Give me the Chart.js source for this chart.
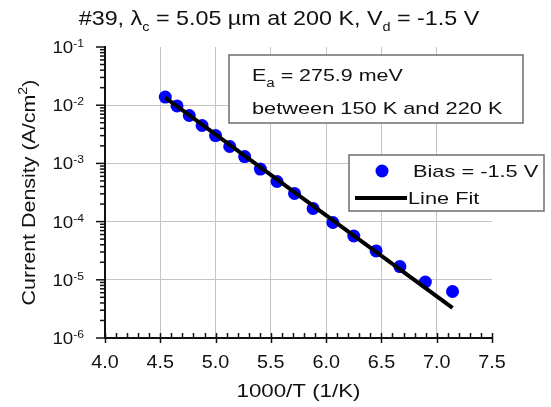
<!DOCTYPE html>
<html>
<head>
<meta charset="utf-8">
<script src="https://cdn.jsdelivr.net/npm/chart.js@4.4.1/dist/chart.umd.min.js"></script>
<style>
    body { margin: 0; background: #fff; }
    #wrap { width: 551px; height: 407px; position: relative; }
</style>
</head>
<body>
<div id="wrap"><canvas id="chart"></canvas></div>
<script>
// 1000/T values (1/K) and measured current density (A/cm^2)
const invT = [4.545, 4.651, 4.762, 4.878, 5.0, 5.128, 5.263, 5.405, 5.556, 5.714, 5.882, 6.061, 6.25, 6.452, 6.667, 6.897, 7.143];
const currentDensity = [1.38e-2, 9.7e-3, 6.65e-3, 4.48e-3, 3.01e-3, 1.95e-3, 1.31e-3, 8.0e-4, 4.89e-4, 3.04e-4, 1.68e-4, 9.66e-5, 5.66e-5, 3.13e-5, 1.69e-5, 9.17e-6, 6.29e-6];

// Arrhenius line fit end points
const fitX = [4.545, 7.143];
const fitY = [1.35e-2, 3.3e-6];

// tick labels
const xTicks = [4.0, 4.5, 5.0, 5.5, 6.0, 6.5, 7.0, 7.5];
const yExponents = [-1, -2, -3, -4, -5, -6];

const FONT = "'Liberation Sans', Arial, Helvetica, sans-serif";

// draw a row of text pieces (for sub/superscripts), sx = horizontal stretch
function drawParts(ctx, parts, x, y, align, sx) {
    sx = sx || 1;
    let total = 0;
    parts.forEach(p => {
        ctx.font = p.size + 'px ' + FONT;
        p.w = ctx.measureText(p.text).width;
        total += p.w;
    });
    let start = x;
    if (align === 'center') start = x - total * sx / 2;
    if (align === 'right') start = x - total * sx;
    ctx.save();
    ctx.translate(start, y);
    ctx.scale(sx, 1);
    ctx.textAlign = 'left';
    ctx.textBaseline = 'alphabetic';
    let cx = 0;
    parts.forEach(p => {
        ctx.font = p.size + 'px ' + FONT;
        ctx.fillText(p.text, cx, p.dy || 0);
        cx += p.w;
    });
    ctx.restore();
}

const decorations = {
    id: 'decorations',
    afterDraw(chart) {
        const ctx = chart.ctx;
        const xs = chart.scales.x;
        const ys = chart.scales.y;
        const area = chart.chartArea;
        ctx.save();
        ctx.fillStyle = '#111';
        ctx.strokeStyle = '#111';

        // x-axis ticks: minor every 0.1 (inside), major every 0.5 (crossing)
        ctx.lineWidth = 1.5;
        for (let i = 0; i <= 35; i++) {
            const v = 4 + i * 0.1;
            const px = Math.round(xs.getPixelForValue(v)) + 0.5;
            const major = i % 5 === 0;
            ctx.beginPath();
            ctx.moveTo(px, area.bottom - 5);
            ctx.lineTo(px, area.bottom + (major ? 5 : 0));
            ctx.stroke();
        }

        // y-axis ticks: decade majors and log minors, outside
        for (let e = -6; e <= -1; e++) {
            const py = ys.getPixelForValue(Math.pow(10, e));
            ctx.beginPath();
            ctx.moveTo(area.left - 9, py);
            ctx.lineTo(area.left, py);
            ctx.stroke();
            if (e < -1) {
                for (let m = 2; m <= 9; m++) {
                    const pm = ys.getPixelForValue(m * Math.pow(10, e));
                    ctx.beginPath();
                    ctx.moveTo(area.left - 5, pm);
                    ctx.lineTo(area.left, pm);
                    ctx.stroke();
                }
            }
        }

        // x tick labels
        xTicks.forEach(v => {
            drawParts(ctx, [{ text: v.toFixed(1), size: 18 }], xs.getPixelForValue(v), area.bottom + 30, 'center', 1.1);
        });

        // y tick labels 10^n
        yExponents.forEach(e => {
            const py = ys.getPixelForValue(Math.pow(10, e));
            drawParts(ctx, [
                { text: '10', size: 17 },
                { text: String(e), size: 11, dy: -6 }
            ], area.left - 21, py + 6, 'right', 1.1);
        });

        // axis titles
        drawParts(ctx, [{ text: '1000/T (1/K)', size: 18 }], (area.left + area.right) / 2, 397, 'center', 1.24);

        ctx.save();
        ctx.translate(35, (area.top + area.bottom) / 2);
        ctx.rotate(-Math.PI / 2);
        drawParts(ctx, [
            { text: 'Current Density (A/cm', size: 18 },
            { text: '2', size: 12, dy: -8 },
            { text: ')', size: 18 }
        ], 0, 0, 'center', 1.19);
        ctx.restore();

        // title
        drawParts(ctx, [
            { text: '#39, \u03bb', size: 21 },
            { text: 'c', size: 13, dy: 6 },
            { text: ' = 5.05 \u00b5m at 200 K, V', size: 21 },
            { text: 'd', size: 13, dy: 6 },
            { text: ' = -1.5 V', size: 21 }
        ], 279, 25, 'center', 1.11);

        // annotation box
        ctx.fillStyle = '#fff';
        ctx.strokeStyle = '#6e6e6e';
        ctx.lineWidth = 1.5;
        ctx.fillRect(229, 55, 294, 68);
        ctx.strokeRect(229, 55, 294, 68);
        ctx.fillStyle = '#111';
        drawParts(ctx, [
            { text: 'E', size: 17 },
            { text: 'a', size: 12, dy: 6 },
            { text: ' = 275.9 meV', size: 17 }
        ], 252, 81, 'left', 1.26);
        drawParts(ctx, [{ text: 'between 150 K and 220 K', size: 17 }], 252, 114, 'left', 1.28);

        // legend box
        ctx.fillStyle = '#fff';
        ctx.fillRect(349, 155, 195, 56);
        ctx.strokeRect(349, 155, 195, 56);
        ctx.fillStyle = '#0000ff';
        ctx.beginPath();
        ctx.arc(382, 171, 6.5, 0, Math.PI * 2);
        ctx.fill();
        ctx.strokeStyle = '#000';
        ctx.lineWidth = 4;
        ctx.beginPath();
        ctx.moveTo(355, 198);
        ctx.lineTo(407, 198);
        ctx.stroke();
        ctx.fillStyle = '#111';
        drawParts(ctx, [{ text: 'Bias = -1.5 V', size: 17 }], 413, 177, 'left', 1.28);
        drawParts(ctx, [{ text: 'Line Fit', size: 17 }], 408, 204, 'left', 1.28);

        ctx.restore();
    }
};

new Chart(document.getElementById('chart'), {
    type: 'scatter',
    data: {
        datasets: [
            {
                label: 'Line Fit',
                data: fitX.map((x, i) => ({ x: x, y: fitY[i] })),
                showLine: true,
                borderColor: '#000',
                borderWidth: 4,
                pointRadius: 0,
                order: 0
            },
            {
                label: 'Bias = -1.5 V',
                data: invT.map((x, i) => ({ x: x, y: currentDensity[i] })),
                backgroundColor: '#0000ff',
                borderColor: '#0000ff',
                pointRadius: 6.5,
                borderWidth: 0,
                order: 1
            }
        ]
    },
    options: {
        responsive: true,
        maintainAspectRatio: false,
        animation: false,
        devicePixelRatio: 1,
        layout: { padding: { left: 105, right: 59, top: 47, bottom: 69 } },
        plugins: {
            legend: { display: false },
            tooltip: { enabled: false }
        },
        scales: {
            x: {
                type: 'linear',
                min: 4.0,
                max: 7.5,
                ticks: { display: false, stepSize: 0.5 },
                grid: {
                    drawTicks: false,
                    color: ctx => (ctx.tick && (ctx.tick.value === 4 || ctx.tick.value === 7.5)) ? 'rgba(0,0,0,0)' : '#c4c4c4',
                    lineWidth: 1
                },
                border: { display: true, color: '#111', width: 2 }
            },
            y: {
                type: 'logarithmic',
                min: 1e-6,
                max: 1e-1,
                afterBuildTicks: scale => {
                    scale.ticks = yExponents.map(e => ({ value: Math.pow(10, e) }));
                },
                ticks: { display: false },
                grid: {
                    drawTicks: false,
                    color: ctx => (ctx.tick && (ctx.tick.value >= 0.09 || ctx.tick.value <= 1.1e-6)) ? 'rgba(0,0,0,0)' : '#c4c4c4',
                    lineWidth: 1
                },
                border: { display: true, color: '#111', width: 2 }
            }
        }
    },
    plugins: [decorations]
});
</script>
</body>
</html>
